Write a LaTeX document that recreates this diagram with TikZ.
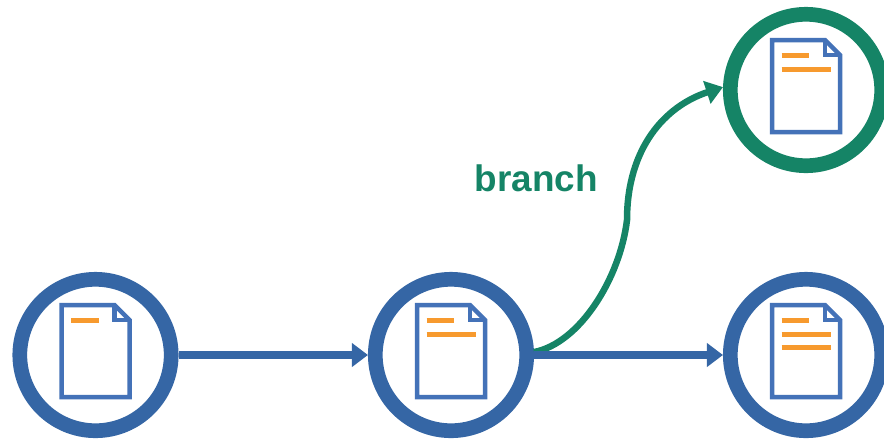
\documentclass[tikz,border=0pt]{standalone}
\usepackage{fontspec}
\setmainfont{Liberation Sans}
\usepackage{xcolor}
\usetikzlibrary{arrows.meta}
\definecolor{ringblue}{HTML}{3566A5}
\definecolor{ringgreen}{HTML}{158466}
\definecolor{pageblue}{HTML}{4472B8}
\definecolor{lineorange}{HTML}{F79A2E}
\tikzset{
  commit/.style={draw=ringblue,circle,line width=1.47mm,fill=white,minimum size=1.514cm,inner sep=0pt},
  branchcommit/.style={commit,draw=ringgreen},
  mainarrow/.style={draw=ringblue,line width=0.76mm,-{Triangle[length=1.6mm,width=2.3mm]}},
  brancharrow/.style={draw=ringgreen,line width=0.65mm,-{Triangle[length=1.7mm,width=2.3mm]}},
  pageline/.style={draw=pageblue,line width=0.45mm,miter limit=10},
  textline/.style={draw=lineorange,line width=0.5mm}
}
% #1 commit node, #2 heights of the long lines
\newcommand{\docpage}[2]{
  \begin{scope}[shift={(#1.center)}]
    \draw[pageline,fill=white] (-0.34,0.50) -- (0.19,0.50) -- (0.34,0.35) -- (0.34,-0.42) -- (-0.34,-0.42) -- cycle;
    \draw[pageline] (0.19,0.50) -- (0.19,0.35) -- (0.34,0.35);
    \draw[textline] (-0.245,0.35) -- (0.03,0.35);
    \foreach \y in {#2} {
      \draw[textline] (-0.245,\y) -- (0.245,\y);
    }
  \end{scope}
}

\begin{document}
\begin{tikzpicture}

\useasboundingbox (0,0) rectangle (8.84,4.38);

\node[commit] (first) at (0.955,0.83) {};
\node[commit] (second) at (4.51,0.83) {};
\node[commit] (third) at (8.06,0.83) {};
\node[branchcommit] (side) at (8.06,3.48) {};

\coordinate (bend) at (6.27,2.18);

\draw[brancharrow] (second.2) .. controls (5.80,0.95) and (6.20,1.60) .. (bend)
  .. controls (6.27,2.90) and (6.65,3.32) .. (side.178);
\draw[mainarrow] (first) -- (second);
\draw[mainarrow] (second) -- (third);

\docpage{first}{}
\docpage{second}{0.21}
\docpage{third}{0.21,0.08}
\docpage{side}{0.21}

\node[text=ringgreen,font=\fontsize{10.5pt}{12pt}\selectfont\bfseries] (label) at (5.365,2.60) {branch};
\end{tikzpicture}
\end{document}
